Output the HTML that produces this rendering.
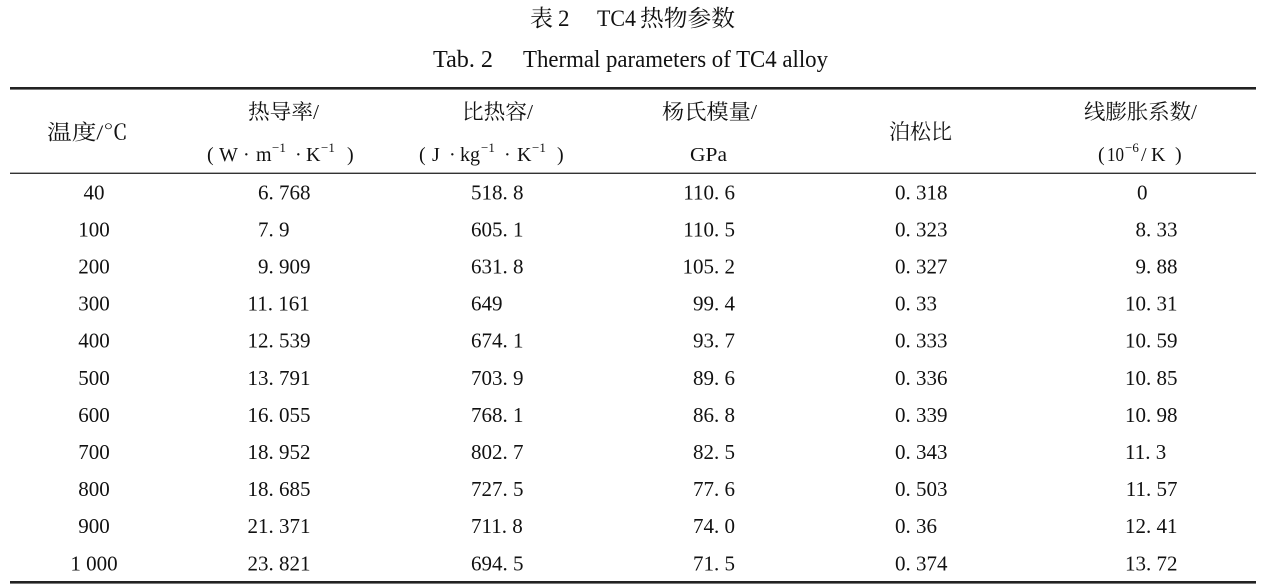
<!DOCTYPE html>
<html>
<head>
<meta charset="utf-8">
<style>
html,body{margin:0;padding:0;background:#fff;}
svg{display:block;}
.n{font-family:"Liberation Serif","Noto Serif CJK SC",serif;font-size:21px;fill:#111;}
.h{font-family:"Liberation Serif","Noto Serif CJK SC",serif;font-size:21px;fill:#111;}
.l{font-family:"Liberation Serif","Noto Serif CJK SC",serif;font-size:20px;fill:#111;}
.s{font-family:"Liberation Serif",serif;font-size:13px;fill:#111;}
.t{font-family:"Liberation Serif","Noto Serif CJK SC",serif;font-size:23px;fill:#111;}
.e{font-family:"Liberation Serif",serif;font-size:24px;fill:#111;}
</style>
</head>
<body>
<svg width="1264" height="587" viewBox="0 0 1264 587" xmlns="http://www.w3.org/2000/svg">
<rect width="1264" height="587" fill="#fff"/>
<!-- Titles -->
<text class="t" x="530" y="26">表</text>
<text class="t" x="558" y="26">2</text>
<text class="t" x="597" y="26" textLength="39" lengthAdjust="spacingAndGlyphs">TC4</text>
<text class="t" x="640" y="26" textLength="95" lengthAdjust="spacingAndGlyphs">热物参数</text>
<text class="e" x="433" y="67" textLength="60" lengthAdjust="spacingAndGlyphs">Tab. 2</text>
<text class="e" x="523" y="67" textLength="305" lengthAdjust="spacingAndGlyphs">Thermal parameters of TC4 alloy</text>

<!-- Rules -->
<rect x="10" y="87" width="1246" height="2.6" fill="#222"/>
<rect x="10" y="172.6" width="1246" height="1.4" fill="#333"/>
<rect x="10" y="581" width="1246" height="2.6" fill="#222"/>

<!-- Header row -->
<text class="h" x="47" y="139.5" textLength="81" lengthAdjust="spacingAndGlyphs">温度/℃</text>
<text class="h" x="248" y="119" textLength="71" lengthAdjust="spacingAndGlyphs">热导率/</text>
<text class="h" x="462" y="119" textLength="71" lengthAdjust="spacingAndGlyphs">比热容/</text>
<text class="h" x="662" y="119" textLength="95" lengthAdjust="spacingAndGlyphs">杨氏模量/</text>
<text class="h" x="889" y="139" textLength="63" lengthAdjust="spacingAndGlyphs">泊松比</text>
<text class="h" x="1084" y="119" textLength="113" lengthAdjust="spacingAndGlyphs">线膨胀系数/</text>

<!-- Header second line: col2 -->
<text class="l" x="207" y="161">(</text>
<text class="l" x="219" y="161">W</text>
<text class="l" x="243" y="161">·</text>
<text class="l" x="256" y="161">m</text>
<text class="s" x="272" y="152">−1</text>
<text class="l" x="295" y="161">·</text>
<text class="l" x="306" y="161">K</text>
<text class="s" x="321" y="152">−1</text>
<text class="l" x="347" y="161">)</text>
<!-- col3 -->
<text class="l" x="419" y="161">(</text>
<text class="l" x="432" y="161">J</text>
<text class="l" x="449" y="161">·</text>
<text class="l" x="460" y="161">kg</text>
<text class="s" x="481" y="152">−1</text>
<text class="l" x="504" y="161">·</text>
<text class="l" x="517" y="161">K</text>
<text class="s" x="532" y="152">−1</text>
<text class="l" x="557" y="161">)</text>
<!-- col4 -->
<text class="l" x="690" y="161" textLength="37" lengthAdjust="spacingAndGlyphs">GPa</text>
<!-- col6 -->
<text class="l" x="1098" y="161">(</text>
<text class="l" x="1107" y="161" textLength="17" lengthAdjust="spacingAndGlyphs">10</text>
<text class="s" x="1125" y="152">−6</text>
<text class="l" x="1141" y="161">/</text>
<text class="l" x="1151" y="161">K</text>
<text class="l" x="1175" y="161">)</text>

<!-- Data rows -->
<g class="n">
<!-- col1 centered at 94 -->
<text x="94" y="199.3" text-anchor="middle">40</text>
<text x="94" y="236.4" text-anchor="middle">100</text>
<text x="94" y="273.5" text-anchor="middle">200</text>
<text x="94" y="310.6" text-anchor="middle">300</text>
<text x="94" y="347.7" text-anchor="middle">400</text>
<text x="94" y="384.8" text-anchor="middle">500</text>
<text x="94" y="421.9" text-anchor="middle">600</text>
<text x="94" y="459.0" text-anchor="middle">700</text>
<text x="94" y="496.1" text-anchor="middle">800</text>
<text x="94" y="533.2" text-anchor="middle">900</text>
<text x="94" y="570.3" text-anchor="middle">1 000</text>

<!-- col2 decimal aligned -->
<text x="258" y="199.3">6. 768</text>
<text x="258" y="236.4">7. 9</text>
<text x="258" y="273.5">9. 909</text>
<text x="247.5" y="310.6">11. 161</text>
<text x="247.5" y="347.7">12. 539</text>
<text x="247.5" y="384.8">13. 791</text>
<text x="247.5" y="421.9">16. 055</text>
<text x="247.5" y="459.0">18. 952</text>
<text x="247.5" y="496.1">18. 685</text>
<text x="247.5" y="533.2">21. 371</text>
<text x="247.5" y="570.3">23. 821</text>

<!-- col3 -->
<text x="471" y="199.3">518. 8</text>
<text x="471" y="236.4">605. 1</text>
<text x="471" y="273.5">631. 8</text>
<text x="471" y="310.6">649</text>
<text x="471" y="347.7">674. 1</text>
<text x="471" y="384.8">703. 9</text>
<text x="471" y="421.9">768. 1</text>
<text x="471" y="459.0">802. 7</text>
<text x="471" y="496.1">727. 5</text>
<text x="471" y="533.2">711. 8</text>
<text x="471" y="570.3">694. 5</text>

<!-- col4 right aligned -->
<text x="735" y="199.3" text-anchor="end">110. 6</text>
<text x="735" y="236.4" text-anchor="end">110. 5</text>
<text x="735" y="273.5" text-anchor="end">105. 2</text>
<text x="735" y="310.6" text-anchor="end">99. 4</text>
<text x="735" y="347.7" text-anchor="end">93. 7</text>
<text x="735" y="384.8" text-anchor="end">89. 6</text>
<text x="735" y="421.9" text-anchor="end">86. 8</text>
<text x="735" y="459.0" text-anchor="end">82. 5</text>
<text x="735" y="496.1" text-anchor="end">77. 6</text>
<text x="735" y="533.2" text-anchor="end">74. 0</text>
<text x="735" y="570.3" text-anchor="end">71. 5</text>

<!-- col5 -->
<text x="895" y="199.3">0. 318</text>
<text x="895" y="236.4">0. 323</text>
<text x="895" y="273.5">0. 327</text>
<text x="895" y="310.6">0. 33</text>
<text x="895" y="347.7">0. 333</text>
<text x="895" y="384.8">0. 336</text>
<text x="895" y="421.9">0. 339</text>
<text x="895" y="459.0">0. 343</text>
<text x="895" y="496.1">0. 503</text>
<text x="895" y="533.2">0. 36</text>
<text x="895" y="570.3">0. 374</text>

<!-- col6 -->
<text x="1137" y="199.3">0</text>
<text x="1177.5" y="236.4" text-anchor="end">8. 33</text>
<text x="1177.5" y="273.5" text-anchor="end">9. 88</text>
<text x="1177.5" y="310.6" text-anchor="end">10. 31</text>
<text x="1177.5" y="347.7" text-anchor="end">10. 59</text>
<text x="1177.5" y="384.8" text-anchor="end">10. 85</text>
<text x="1177.5" y="421.9" text-anchor="end">10. 98</text>
<text x="1125" y="459.0">11. 3</text>
<text x="1177.5" y="496.1" text-anchor="end">11. 57</text>
<text x="1177.5" y="533.2" text-anchor="end">12. 41</text>
<text x="1177.5" y="570.3" text-anchor="end">13. 72</text>
</g>
</svg>
</body>
</html>
